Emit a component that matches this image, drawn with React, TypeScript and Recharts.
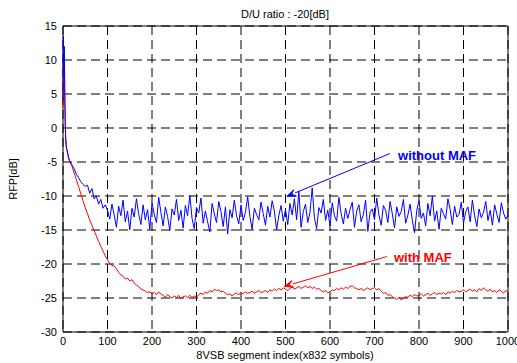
import React from "react";
import {
  LineChart,
  Line,
  XAxis,
  YAxis,
  CartesianGrid,
  ReferenceArea,
  ReferenceLine,
} from "recharts";

// segment index (early part denser because of the spike)
const segIndex = [
  0, 1, 2, 3, 4, 5, 6, 7, 8, 10, 12, 15,
  20, 25, 30, 35, 40, 45, 50, 55, 60, 65, 70, 75, 80, 85, 90, 95,
  100, 105, 110, 115, 120, 125, 130, 135, 140, 145,
  150, 155, 160, 165, 170, 175, 180, 185, 190, 195,
  200, 205, 210, 215, 220, 225, 230, 235, 240, 245,
  250, 255, 260, 265, 270, 275, 280, 285, 290, 295,
  300, 305, 310, 315, 320, 325, 330, 335, 340, 345,
  350, 355, 360, 365, 370, 375, 380, 385, 390, 395,
  400, 405, 410, 415, 420, 425, 430, 435, 440, 445,
  450, 455, 460, 465, 470, 475, 480, 485, 490, 495,
  500, 505, 510, 515, 520, 525, 530, 535, 540, 545,
  550, 555, 560, 565, 570, 575, 580, 585, 590, 595,
  600, 605, 610, 615, 620, 625, 630, 635, 640, 645,
  650, 655, 660, 665, 670, 675, 680, 685, 690, 695,
  700, 705, 710, 715, 720, 725, 730, 735, 740, 745,
  750, 755, 760, 765, 770, 775, 780, 785, 790, 795,
  800, 805, 810, 815, 820, 825, 830, 835, 840, 845,
  850, 855, 860, 865, 870, 875, 880, 885, 890, 895,
  900, 905, 910, 915, 920, 925, 930, 935, 940, 945,
  950, 955, 960, 965, 970, 975, 980, 985, 990, 995,
  1000,
];

// RFP without MAF (blue)
const rfpWithout = [
  4, 13.5, 8.5, 12, 6, 1, -1.5, -2.5, -3, -3.5, -4.2, -4.8,
  -5.4, -6.0, -6.8, -7.3, -7.9, -8.3, -8.6, -8.4, -9.6, -8.9, -10.4, -10.0, -11.2, -10.5, -11.8, -11.3,
  -12.1, -13.4, -11.2, -12.8, -14.6, -11.5, -12.9, -10.6, -13.8, -12.2,
  -15.0, -11.8, -13.1, -10.4, -12.6, -14.2, -11.3, -13.5, -12.0, -14.9,
  -11.0, -12.7, -13.9, -10.2, -12.4, -14.4, -11.6, -13.0, -15.1, -11.9,
  -12.8, -10.5, -13.6, -12.1, -14.7, -11.4, -12.9, -9.9, -13.3, -14.8,
  -11.7, -12.5, -10.3, -14.0, -12.2, -13.8, -15.3, -11.1, -12.6, -13.9,
  -10.8, -12.3, -14.5, -11.6, -15.6, -12.0, -13.2, -10.6, -12.9, -14.1,
  -11.3, -13.6, -12.4, -10.1, -13.0, -14.9, -11.8, -12.7, -13.5, -10.9,
  -12.6, -14.3, -11.5, -13.1, -10.7, -12.2, -15.0, -12.9, -11.4, -13.7,
  -12.0, -14.2, -11.1, -12.8, -10.4, -13.5, -9.3, -14.6, -12.3, -11.2,
  -13.9, -12.4, -8.8, -13.2, -14.8, -11.7, -12.5, -10.5, -13.6, -12.1,
  -14.4, -11.0, -12.9, -13.7, -10.2, -12.6, -14.1, -11.8, -13.3, -12.0,
  -10.9, -14.6, -12.2, -11.3, -13.8, -12.7, -10.6, -15.2, -12.4, -11.9,
  -13.5, -10.3, -12.8, -14.3, -11.4, -12.1, -13.9, -10.8, -12.6, -14.7,
  -11.6, -13.0, -12.3, -10.5, -14.0, -12.8, -11.2, -13.6, -15.4, -12.1,
  -10.7, -13.3, -12.5, -14.4, -11.1, -12.9, -10.0, -13.7, -12.2, -14.9,
  -11.8, -12.6, -13.4, -10.4, -12.0, -14.2, -11.5, -13.1, -12.7, -10.9,
  -14.0, -12.3, -11.6, -13.8, -10.6, -12.9, -14.5, -11.9, -13.2, -12.4,
  -10.8, -13.6, -12.1, -14.3, -11.3, -12.7, -13.9, -11.0, -12.5, -13.4,
  -12.8,
];

// RFP with MAF (red)
const rfpWith = [
  3, 10.3, 8, 10, 4, 0.5, -1.5, -2.4, -3, -3.6, -4.3, -5,
  -5.6, -6.6, -7.6, -8.6, -9.7, -10.7, -11.7, -12.6, -13.5, -14.3, -15.1, -15.9, -16.7, -17.4, -18.1, -18.8,
  -19.4, -19.9, -20.2, -20.3, -20.7, -21.2, -21.6, -21.8, -22.2, -22.1,
  -22.5, -22.3, -22.8, -23.1, -23.3, -23.7, -23.8, -24.0, -24.2, -24.1,
  -24.4, -24.2, -24.5, -24.1, -24.4, -24.6, -24.9, -24.5, -24.8, -25.0,
  -24.7, -24.9, -24.6, -25.1, -24.8, -24.7, -25.0, -24.6, -24.9, -24.7,
  -24.9, -24.5, -24.3, -24.5, -24.1, -24.3, -23.9, -24.1, -23.7, -23.9,
  -23.8, -24.1, -24.0, -24.3, -24.5, -24.4, -24.7, -24.4, -24.3, -24.5,
  -24.2, -24.4, -24.1, -24.3, -24.2, -24.0, -24.3, -24.1, -23.9, -24.2,
  -24.1, -23.9, -24.2, -23.8, -24.0, -23.7, -23.9, -23.6, -23.8, -23.5,
  -23.7, -23.9, -23.6, -23.4, -23.7, -23.5, -23.3, -23.6, -23.4, -23.2,
  -23.5, -23.3, -23.6, -23.4, -23.7, -23.6, -23.9, -24.1, -23.9, -24.2,
  -24.1, -23.8, -23.9, -23.6, -23.8, -23.5, -23.7, -23.4, -23.6, -23.3,
  -23.2, -23.5, -23.6, -23.8, -23.6, -23.9, -23.7, -23.5, -23.8, -23.6,
  -23.5, -23.8, -23.6, -24.0, -24.3, -24.2, -24.6, -24.5, -24.8, -25.0,
  -25.2, -24.9, -25.3, -25.0, -24.8, -24.9, -24.6, -24.8, -24.5, -24.7,
  -24.6, -24.4, -24.7, -24.5, -24.3, -24.6, -24.4, -24.2, -24.5, -24.3,
  -24.4, -24.2, -24.5, -24.1, -24.3, -24.0, -24.2, -23.9, -24.1, -24.0,
  -23.8, -24.1, -23.9, -23.7, -24.0, -23.8, -24.1, -23.6, -23.9, -23.5,
  -23.8, -24.0, -23.7, -24.1, -23.9, -24.2, -23.8, -24.0, -24.3, -23.9,
  -24.1,
];

const xTicks = [0, 100, 200, 300, 400, 500, 600, 700, 800, 900, 1000];
const yTicks = [-30, -25, -20, -15, -10, -5, 0, 5, 10, 15];

const data = segIndex.map((x, i) => ({ x, without: rfpWithout[i], with: rfpWith[i] }));

const font = "'Liberation Sans', Arial, sans-serif";

// arrow + text annotation drawn from the reference line segment
const makeArrow = (text: string, color: string, tx: number, ty: number) => (p: any) => {
  const { x1, y1, x2, y2 } = p;
  const ang = Math.atan2(y2 - y1, x2 - x1);
  const len = 9;
  const w = 3.5;
  const bx = x2 - len * Math.cos(ang);
  const by = y2 - len * Math.sin(ang);
  const px = -Math.sin(ang) * w;
  const py = Math.cos(ang) * w;
  return (
    <g>
      <line x1={x1} y1={y1} x2={bx} y2={by} stroke={color} strokeWidth={1} />
      <polygon
        points={`${x2},${y2} ${bx + px},${by + py} ${bx + 0.4 * len * Math.cos(ang)},${by + 0.4 * len * Math.sin(ang)} ${bx - px},${by - py}`}
        fill={color}
        stroke={color}
        strokeWidth={0.8}
      />
      <text x={x1 + tx} y={y1 + ty} fill={color} fontSize={13} fontWeight="bold" fontFamily={font}>
        {text}
      </text>
    </g>
  );
};

export default function App() {
  return (
    <div style={{ position: "absolute", left: 0, top: 0, width: 517, height: 363, background: "#fff", fontFamily: font }}>
      <div style={{ position: "absolute", top: 9, left: 185, width: 200, textAlign: "center", fontSize: 11, lineHeight: "11px" }}>
        D/U ratio : -20[dB]
      </div>
      <div style={{ position: "absolute", top: 350, left: 135, width: 300, textAlign: "center", fontSize: 11, lineHeight: "11px" }}>
        8VSB segment index(x832 symbols)
      </div>
      <div
        style={{
          position: "absolute",
          left: 13,
          top: 179,
          fontSize: 11,
          lineHeight: "11px",
          transform: "translate(-50%, -50%) rotate(-90deg)",
          whiteSpace: "nowrap",
        }}
      >
        RFP[dB]
      </div>
      <LineChart width={517} height={363} data={data} margin={{ top: 26, right: 9, bottom: 0, left: 0 }}>
        <CartesianGrid stroke="#000" strokeDasharray="9 5" strokeWidth={1} />
        <XAxis
          dataKey="x"
          type="number"
          domain={[0, 1000]}
          ticks={xTicks}
          interval={0}
          height={31}
          tickSize={0}
          tickMargin={5}
          axisLine={false}
          tick={{ fontSize: 11, fill: "#000", fontFamily: font }}
        />
        <YAxis
          type="number"
          domain={[-30, 15]}
          ticks={yTicks}
          interval={0}
          width={63}
          tickSize={0}
          tickMargin={6}
          axisLine={false}
          tick={{ fontSize: 11, fill: "#000", fontFamily: font }}
        />
        <ReferenceArea x1={0} x2={1000} y1={-30} y2={15} fill="none" stroke="#000" strokeWidth={1} ifOverflow="visible" />
        <Line dataKey="with" stroke="#ff0000" strokeWidth={1} dot={false} isAnimationActive={false} />
        <Line dataKey="without" stroke="#0000ff" strokeWidth={1} dot={false} isAnimationActive={false} />
        <ReferenceLine
          segment={[{ x: 735, y: -3.75 }, { x: 503, y: -10.05 }]}
          stroke="#0000ff"
          shape={makeArrow("without MAF", "#0000ff", 8, 6)}
        />
        <ReferenceLine
          segment={[{ x: 728, y: -18.9 }, { x: 497, y: -23.3 }]}
          stroke="#ff0000"
          shape={makeArrow("with MAF", "#ff0000", 7, 5)}
        />
      </LineChart>
    </div>
  );
}
